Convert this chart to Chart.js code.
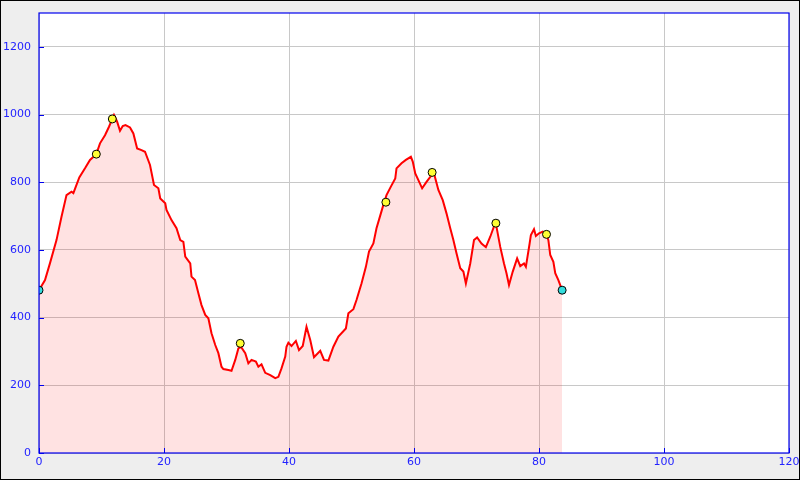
<!DOCTYPE html>
<html>
<head>
<meta charset="utf-8">
<script src="https://cdn.jsdelivr.net/npm/chart.js@4"></script>
<style>
  body { margin: 0; background: #eeeeee; }
  #profile { display: block; }
</style>
</head>
<body>
<canvas id="profile" width="800" height="480"></canvas>
<script>
// ------
// profile data (km / m)
// ------
const distance = [
  0, 0.96, 1.76, 2.8, 3.6, 4.4, 5.2, 5.5, 6.45, 7.36, 8.16, 9.17, 9.76, 10.56, 11.2, 11.73,
  12.0, 12.5, 12.96, 13.4, 13.84, 14.56, 15.1, 15.7, 16.4, 16.96, 17.76, 18.4, 19.1, 19.4,
  20.2, 20.4, 21.2, 22.0, 22.6, 23.1, 23.4, 24.2, 24.4, 24.96, 25.5, 26.0, 26.6, 27.1, 27.6,
  28.2, 28.7, 29.2, 29.5, 30.3, 30.8, 31.4, 31.9, 32.3, 33.0, 33.5, 34.0, 34.7, 35.1, 35.6,
  36.2, 37.0, 37.8, 38.3, 38.8, 39.4, 39.6, 39.9, 40.4, 41.1, 41.6, 42.2, 42.8, 43.4, 44.0,
  45.0, 45.6, 46.3, 47.1, 47.9, 49.1, 49.5, 50.3, 50.8, 51.6, 52.3, 52.8, 53.5, 54.0, 54.7,
  55.1, 55.6, 56.3, 57.0, 57.2, 58.0, 58.7, 59.5, 59.8, 60.2, 60.7, 61.3, 62.0, 62.6, 63.2,
  63.9, 64.6, 65.2, 65.8, 66.3, 66.8, 67.4, 67.9, 68.3, 69.0, 69.6, 70.1, 70.8, 71.5, 72.2,
  73.0, 73.2, 73.8, 74.4, 74.8, 75.2, 75.8, 76.5, 77.0, 77.6, 77.9, 78.5, 78.7, 79.2, 79.5,
  80.0, 80.6, 81.2, 81.5, 81.8, 82.3, 82.6, 83.1, 83.7
];
const elevation = [
  481, 511, 561, 629, 698, 762, 772, 768, 814, 841, 866, 883, 915, 939, 964, 987,
  999, 979, 952, 966, 969, 962, 944, 900, 895, 890, 851, 792, 782, 752,
  738, 718, 688, 664, 629, 624, 580, 560, 521, 511, 472, 437, 408, 398, 354,
  319, 295, 255, 248, 245, 243, 275, 309, 314, 295, 265, 275, 270, 255, 262,
  237, 230, 221, 225, 250, 285, 314, 326, 316, 331, 304, 316, 373, 334, 283,
  302, 275, 273, 314, 344, 368, 413, 425, 452, 501, 550, 595, 619, 664, 708,
  733, 762, 787, 811, 841, 856, 866, 875, 861, 826, 806, 782, 801, 816, 826,
  777, 747, 708, 664, 629, 590, 546, 536, 501, 560, 629, 637, 619, 608, 639,
  680, 668, 609, 560, 531, 496, 536, 575, 552, 560, 550, 619, 644, 661, 641,
  649, 654, 646, 629, 585, 565, 531, 511, 481
];

// waypoints
const wpDistance = [0, 9.17, 11.73, 32.2, 55.5, 62.9, 73.1, 81.2, 83.7];
const wpElevation = [481, 883, 987, 324, 741, 829, 679, 646, 481];
const wpColor = ['#33dddd', '#ffff33', '#ffff33', '#ffff33', '#ffff33', '#ffff33', '#ffff33', '#ffff33', '#33dddd'];

const xTicks = [0, 20, 40, 60, 80, 100, 120];
const yTicks = [0, 200, 400, 600, 800, 1000, 1200];

const axisBlue = '#0000ee';
const labelBlue = '#2222ff';

// background, frame and inward tick marks
const framePlugin = {
  id: 'frame',
  beforeDraw(chart) {
    const c = chart.ctx;
    c.save();
    c.fillStyle = '#eeeeee';
    c.fillRect(0, 0, chart.width, chart.height);
    const a = chart.chartArea;
    c.fillStyle = '#ffffff';
    c.fillRect(a.left, a.top, a.right - a.left, a.bottom - a.top);
    c.strokeStyle = '#000000';
    c.lineWidth = 1;
    c.strokeRect(0.5, 0.5, chart.width - 1, chart.height - 1);
    c.restore();
  },
  afterDraw(chart) {
    const c = chart.ctx;
    const a = chart.chartArea;
    c.save();
    c.strokeStyle = axisBlue;
    c.lineWidth = 1.2;
    c.strokeRect(a.left, a.top, a.right - a.left, a.bottom - a.top);
    c.beginPath();
    xTicks.forEach(v => {
      const px = Math.round(chart.scales.x.getPixelForValue(v)) + 0.5;
      c.moveTo(px, a.bottom);
      c.lineTo(px, a.bottom - 5);
    });
    yTicks.forEach(v => {
      const py = Math.round(chart.scales.y.getPixelForValue(v)) + 0.5;
      c.moveTo(a.left, py);
      c.lineTo(a.left + 5, py);
    });
    c.lineWidth = 1;
    c.stroke();
    c.restore();
  }
};

const profile = document.getElementById('profile');
new Chart(profile, {
  type: 'line',
  plugins: [framePlugin],
  data: {
    datasets: [
      {
        type: 'scatter',
        data: wpDistance.map((d, i) => ({ x: d, y: wpElevation[i] })),
        pointRadius: 4,
        pointBorderWidth: 1,
        pointBorderColor: '#000000',
        pointBackgroundColor: wpColor,
        showLine: false,
      },
      {
        data: distance.map((d, i) => ({ x: d, y: elevation[i] })),
        borderColor: '#ff0000',
        borderWidth: 2,
        backgroundColor: 'rgba(255, 0, 0, 0.115)',
        fill: 'origin',
        pointRadius: 0,
        tension: 0,
      },
    ],
  },
  options: {
    responsive: false,
    animation: false,
    events: [],
    layout: {
      padding: { left: 0, top: 13, right: 11, bottom: 0 },
    },
    plugins: {
      legend: { display: false },
      tooltip: { enabled: false },
    },
    scales: {
      x: {
        type: 'linear',
        min: 0,
        max: 120,
        afterBuildTicks: s => { s.ticks = xTicks.map(v => ({ value: v })); },
        afterFit: s => { s.height = 27; s.paddingLeft = 0; s.paddingRight = 0; },
        grid: { color: '#c8c8c8', drawTicks: false },
        border: { display: false },
        ticks: {
          padding: 3,
          maxRotation: 0,
          color: labelBlue,
          font: { family: 'DejaVu Sans', size: 11 },
          callback: v => String(v),
        },
      },
      y: {
        min: 0,
        max: 1300,
        afterBuildTicks: s => { s.ticks = yTicks.map(v => ({ value: v })); },
        afterFit: s => { s.width = 39; s.paddingTop = 0; s.paddingBottom = 0; },
        grid: { color: '#c8c8c8', drawTicks: false },
        border: { display: false },
        ticks: {
          padding: 8,
          color: labelBlue,
          font: { family: 'DejaVu Sans', size: 11 },
          callback: v => String(v),
        },
      },
    },
  },
});
// ------
// end profile
// ------
</script>
</body>
</html>
